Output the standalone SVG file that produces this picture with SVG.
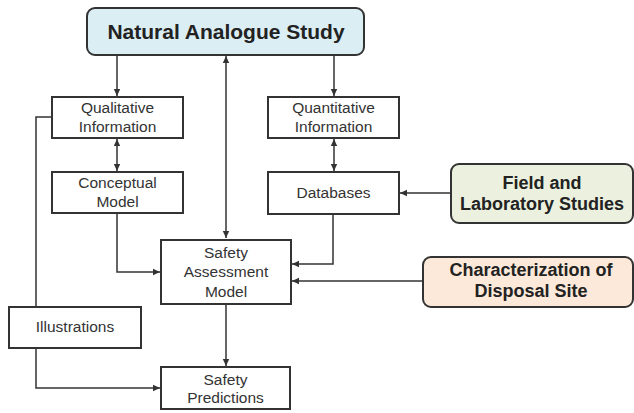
<svg xmlns="http://www.w3.org/2000/svg" width="634" height="413" viewBox="0 0 634 413">
<style>
.box{fill:#fff;stroke:#333;stroke-width:2}
.t{font-family:"Liberation Sans",Arial,sans-serif;font-size:15.5px;fill:#333;text-anchor:middle}
.b{font-family:"Liberation Sans",Arial,sans-serif;font-weight:bold;fill:#222;text-anchor:middle}
.c{fill:none;stroke:#333;stroke-width:1.5}
</style>
<defs>
<marker id="ah" markerWidth="8" markerHeight="8" refX="7" refY="4" orient="auto-start-reverse" markerUnits="userSpaceOnUse">
<path d="M0,0.8 L7,4 L0,7.2 Z" fill="#333"/>
</marker>
</defs>
<rect width="634" height="413" fill="#fff"/>
<g id="connectors">
<path class="c" d="M117,55 V96" marker-end="url(#ah)"/>
<path class="c" d="M334,55 V96" marker-end="url(#ah)"/>
<path class="c" d="M226,56 V238" marker-start="url(#ah)" marker-end="url(#ah)"/>
<path class="c" d="M117,139 V171" marker-start="url(#ah)" marker-end="url(#ah)"/>
<path class="c" d="M334,139 V171" marker-start="url(#ah)" marker-end="url(#ah)"/>
<path class="c" d="M117,213 V272 H160" marker-end="url(#ah)"/>
<path class="c" d="M333,214 V264 H292" marker-end="url(#ah)"/>
<path class="c" d="M423,281 H292" marker-end="url(#ah)"/>
<path class="c" d="M451,193 H400" marker-end="url(#ah)"/>
<path class="c" d="M52,117 H36 V307"/>
<path class="c" d="M36,348 V388 H160" marker-end="url(#ah)"/>
<path class="c" d="M226,304 V366" marker-end="url(#ah)"/>
</g>
<g id="natural">
<rect x="87" y="8" width="277" height="47" rx="8" fill="#dbeef4" stroke="#333" stroke-width="2"/>
<text class="b" x="226" y="39" font-size="21">Natural Analogue Study</text>
</g>
<g id="qualitative">
<rect class="box" x="52" y="97" width="131" height="41"/>
<text class="t" x="117.5" y="113">Qualitative</text>
<text class="t" x="117.5" y="132">Information</text>
</g>
<g id="quantitative">
<rect class="box" x="268" y="97" width="131" height="41"/>
<text class="t" x="333.5" y="113">Quantitative</text>
<text class="t" x="333.5" y="132">Information</text>
</g>
<g id="conceptual">
<rect class="box" x="52" y="172" width="131" height="41"/>
<text class="t" x="117.5" y="188">Conceptual</text>
<text class="t" x="117.5" y="207">Model</text>
</g>
<g id="databases">
<rect class="box" x="268" y="172" width="131" height="42"/>
<text class="t" x="333.5" y="198">Databases</text>
</g>
<g id="field">
<rect x="451" y="164" width="182" height="59" rx="8" fill="#ebf1de" stroke="#333" stroke-width="2"/>
<text class="b" x="542" y="189" font-size="18">Field and</text>
<text class="b" x="542" y="210" font-size="18">Laboratory Studies</text>
</g>
<g id="safety-assessment">
<rect class="box" x="161" y="240" width="130" height="64"/>
<text class="t" x="226" y="258">Safety</text>
<text class="t" x="226" y="277">Assessment</text>
<text class="t" x="226" y="297">Model</text>
</g>
<g id="characterization">
<rect x="423" y="257" width="210" height="50" rx="8" fill="#fde9d9" stroke="#333" stroke-width="2"/>
<text class="b" x="531" y="276" font-size="18">Characterization of</text>
<text class="b" x="531" y="297" font-size="18">Disposal Site</text>
</g>
<g id="illustrations">
<rect class="box" x="9" y="307" width="132" height="41"/>
<text class="t" x="75" y="332">Illustrations</text>
</g>
<g id="safety-predictions">
<rect class="box" x="161" y="367" width="129" height="42"/>
<text class="t" x="225.5" y="385">Safety</text>
<text class="t" x="225.5" y="403">Predictions</text>
</g>
</svg>
